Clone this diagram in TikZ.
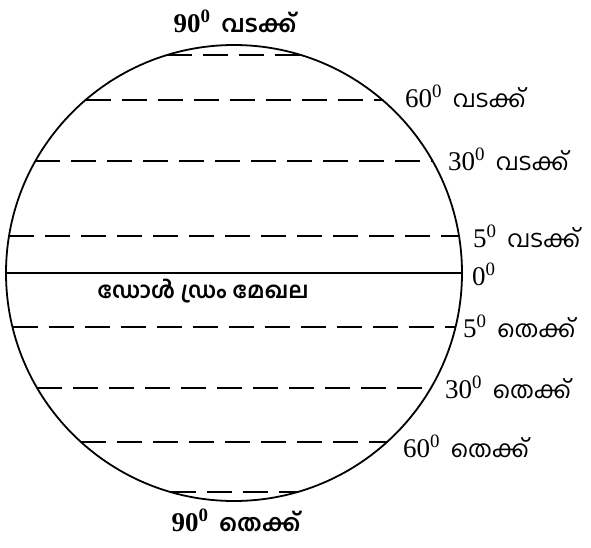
\documentclass[tikz,border=0pt]{standalone}
\usepackage{fontspec}
\setmainfont{Liberation Serif}
\newfontfamily\ml[Script=Malayalam]{Hind Kochi}
\newcommand{\dg}{\textsuperscript{0}}
\newcommand{\mlt}[1]{\hspace{4pt}{\fontsize{23.5}{26}\selectfont\ml #1}}
\begin{document}
\begin{tikzpicture}[x=1pt,y=-1pt,
  globeline/.style={line width=1.8pt},
  lat/.style={line width=2pt, dash pattern=on 25pt off 11pt},
  lbl/.style={anchor=base west, inner sep=0pt, font=\fontsize{27}{30}\selectfont},
  pole/.style={anchor=base, inner sep=0pt, font=\fontsize{27}{30}\selectfont\bfseries}]
\useasboundingbox (0,0) rectangle (591,547);
\node[circle, draw, globeline, minimum size=456pt, inner sep=0pt] (globe) at (234,273) {};
% latitude lines
\draw[lat] (167.2,55) -- (300.8,55);
\draw[lat] (85.5,100) -- (382.5,100);
\draw[lat] (35.4,161) -- (432.6,161);
\draw[lat] (9,236) -- (459,236);
\draw[globeline] (globe.west) -- (globe.east);
\draw[lat] (12.5,327) -- (455.5,327);
\draw[lat] (37.1,388) -- (430.9,388);
\draw[lat] (81,442) -- (387,442);
\draw[lat] (170.6,492) -- (297.4,492);
% labels
\node[pole] (n90) at (235,32) {90\dg\ \mlt{വടക്ക്}};
\node[pole] (s90) at (236,531) {90\dg\ \mlt{തെക്ക്}};
\node[lbl] (n60) at (405,107) {60\dg\ \mlt{വടക്ക്}};
\node[lbl] (n30) at (448,170) {30\dg\ \mlt{വടക്ക്}};
\node[lbl] (n5) at (473,247) {5\dg\ \mlt{വടക്ക്}};
\node[lbl] (eq) at (472,285) {0\dg};
\node[lbl] (s5) at (463,337) {5\dg\ \mlt{തെക്ക്}};
\node[lbl] (s30) at (445,398) {30\dg\ \mlt{തെക്ക്}};
\node[lbl] (s60) at (403,457) {60\dg\ \mlt{തെക്ക്}};
\node[anchor=base, inner sep=0pt, font=\fontsize{22.5}{26}\selectfont\bfseries\ml] (dol) at (203,298) {ഡോൾ ഡ്രം മേഖല};
\end{tikzpicture}
\end{document}
